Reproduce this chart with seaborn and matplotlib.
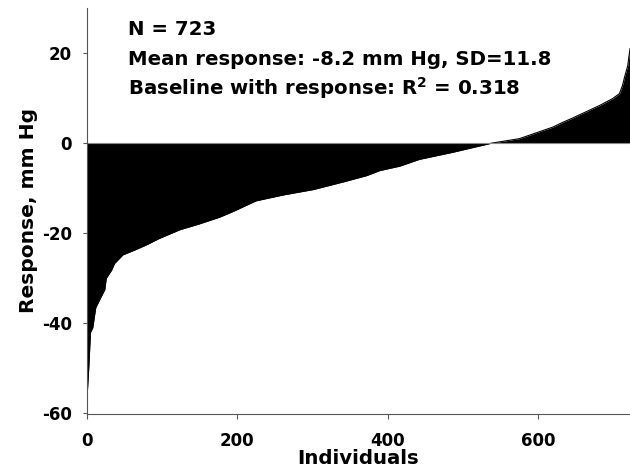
import matplotlib
matplotlib.use("Agg")
import matplotlib.pyplot as plt
import seaborn as sns

# valores (individuos ordenados por respuesta)
individual = [0, 2, 3, 5, 8, 12, 18, 24, 26, 33, 37, 48, 64, 79, 97, 124, 150, 177,
              194, 225, 261, 301, 341, 372, 389, 416, 442, 487, 538, 575, 620, 631,
              646, 664, 682, 699, 708, 712, 715, 719, 722]
response = [-57.5, -52, -49, -42, -41, -36.5, -34.5, -32.5, -30, -28.2, -26.7, -24.8,
            -23.7, -22.6, -21.1, -19.2, -17.9, -16.4, -15.2, -12.8, -11.5, -10.3, -8.6,
            -7.2, -6.1, -5.1, -3.6, -2.0, 0, 1.0, 3.6, 4.5, 5.6, 7.0, 8.4, 9.9, 11.0,
            12.8, 14.8, 17.2, 21.0]

x_ticks = [0, 200, 400, 600]
y_ticks = [-60, -40, -20, 0, 20]

notas = ["N = 723",
         "Mean response: -8.2 mm Hg, SD=11.8",
         r"Baseline with response: R$^{\bf 2}$ = 0.318"]

sns.set_style("ticks")
plt.rcParams["font.family"] = ["DejaVu Sans"]
plt.rcParams["font.weight"] = "bold"
plt.rcParams["text.color"] = "black"
plt.rcParams["axes.labelcolor"] = "black"
plt.rcParams["xtick.color"] = "black"
plt.rcParams["ytick.color"] = "black"
plt.rcParams["axes.unicode_minus"] = False

fig = plt.figure(figsize=(6.3, 4.69), dpi=100)
ax = fig.add_axes([86.7 / 630, 55.5 / 469, 543.3 / 630, 405.5 / 469])

# area negra desde 0 hasta la respuesta
ax.fill_between(individual, 0, response, color="black", lw=0)
sns.lineplot(x=individual, y=response, color="black", lw=0.8, ax=ax)
ax.axhline(0, color="#888888", lw=0.8)

ax.set_xlim(0, 722)
ax.set_ylim(-60, 30)
ax.set_xticks(x_ticks)
ax.set_yticks(y_ticks)

for lado in ["top", "right"]:
    ax.spines[lado].set_visible(False)
for lado in ["left", "bottom"]:
    ax.spines[lado].set_color("#555555")
    ax.spines[lado].set_linewidth(0.8)

ax.tick_params(axis="x", length=3.6, width=0.8, color="#555555", pad=10, labelsize=12)
ax.tick_params(axis="y", length=3, width=0.8, color="#555555", pad=7.5, labelsize=12)
for t in ax.get_xticklabels() + ax.get_yticklabels():
    t.set_fontweight("bold")

ax.set_xlabel("Individuals", fontsize=14.2, fontweight="bold", labelpad=-1)
ax.set_ylabel("Response, mm Hg", fontsize=14.6, fontweight="bold", labelpad=3)

for i, texto in enumerate(notas):
    fig.text(128 / 630, 1 - (35 + 30 * i) / 469, texto, fontsize=14.2,
             fontweight="bold", va="baseline", ha="left")

fig.savefig("out.png", dpi=100)
